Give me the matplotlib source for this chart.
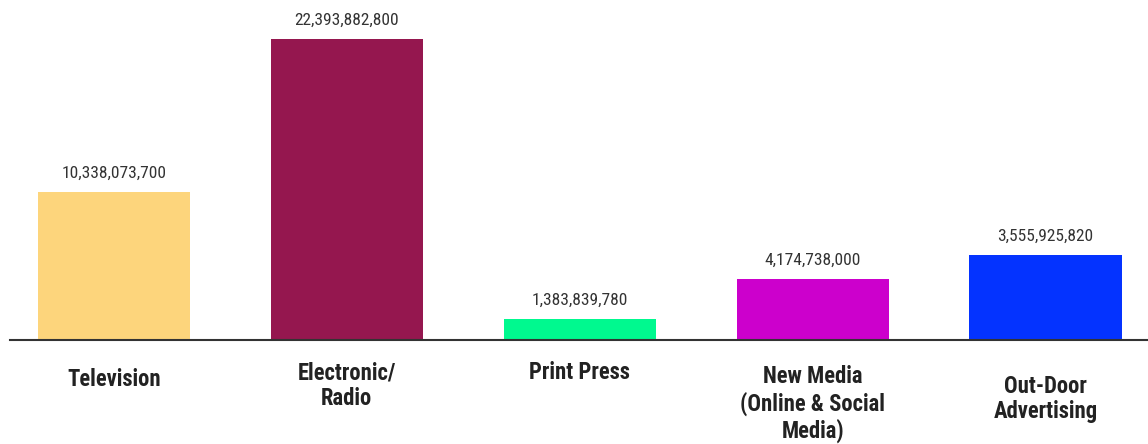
import matplotlib.pyplot as plt
from matplotlib.transforms import blended_transform_factory

categories = ['Television', 'Electronic/\nRadio', 'Print Press',
              'New Media\n(Online & Social\nMedia)', 'Out-Door\nAdvertising']
# bar heights as drawn in the picture (they do not follow the printed labels exactly)
bar_heights = [11.0e9, 22.39e9, 1.56e9, 4.54e9, 6.32e9]
value_labels = ['10,338,073,700', '22,393,882,800', '1,383,839,780',
                '4,174,738,000', '3,555,925,820']
colors = ['#FDD57C', '#95174F', '#00F98F', '#CC00CC', '#0433FF']

# vertical offset (px below the baseline) of each category label centre
label_drop = [39, 46, 32, 64, 59]

plt.rcParams['font.family'] = ['Roboto Condensed', 'Liberation Sans Narrow',
                               'Roboto', 'DejaVu Sans']

fig = plt.figure(figsize=(11.48, 4.44), dpi=100)
ax = fig.add_axes([10 / 1148, 104 / 444, 1 - 10 / 1148, 340 / 444])

x = list(range(len(categories)))
bars = ax.bar(x, bar_heights, width=0.653, color=colors)

for xi, h, lab in zip(x, bar_heights, value_labels):
    ax.annotate(lab, xy=(xi, h), xytext=(0, 11), textcoords='offset pixels',
                ha='center', va='bottom', fontsize=12.5, color='#333333')

trans = blended_transform_factory(ax.transData, ax.transAxes)
for xi, cat, d in zip(x, categories, label_drop):
    ax.annotate(cat, xy=(xi, 0), xycoords=trans, xytext=(0, -d),
                textcoords='offset pixels', ha='center', va='center',
                multialignment='center', fontsize=16.3, fontweight='bold',
                color='#222222', linespacing=1.15, annotation_clip=False)

ax.set_xlim(-0.446, 4.44)
ax.set_ylim(0, 22.39e9 * 340 / 301)
for s in ['top', 'right', 'left']:
    ax.spines[s].set_visible(False)
ax.spines['bottom'].set_color('#333333')
ax.spines['bottom'].set_linewidth(1.5)
ax.set_xticks([])
ax.set_yticks([])

fig.savefig('out.png', dpi=100)
